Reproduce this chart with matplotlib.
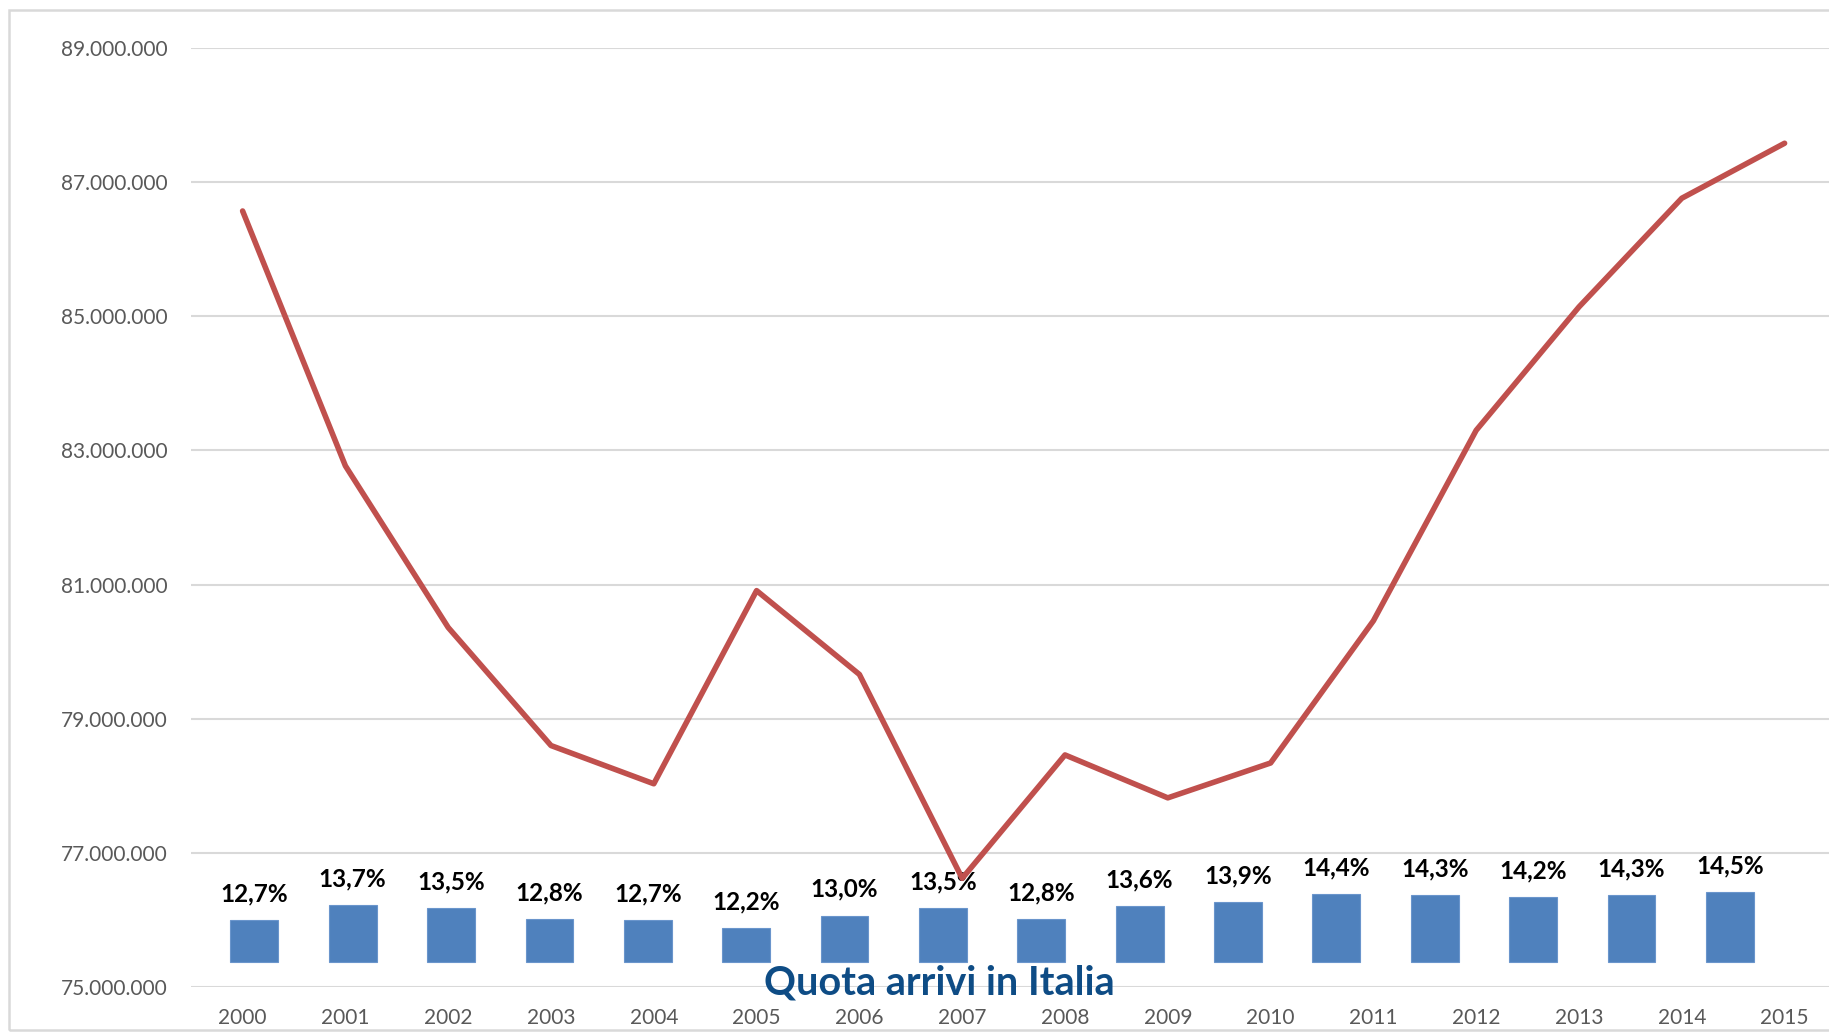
import matplotlib
matplotlib.use("Agg")
import matplotlib.pyplot as plt
from matplotlib.patches import Rectangle
from matplotlib.ticker import FuncFormatter, FixedLocator

years = ["2000", "2001", "2002", "2003", "2004", "2005", "2006", "2007",
         "2008", "2009", "2010", "2011", "2012", "2013", "2014", "2015"]
arrivals = [86.57e6, 82.77e6, 80.36e6, 78.60e6, 78.03e6, 80.91e6, 79.66e6, 76.62e6,
            78.46e6, 77.82e6, 78.34e6, 80.46e6, 83.30e6, 85.14e6, 86.76e6, 87.58e6]
share_pct = [12.7, 13.7, 13.5, 12.8, 12.7, 12.2, 13.0, 13.5,
             12.8, 13.6, 13.9, 14.4, 14.3, 14.2, 14.3, 14.5]
share_labels = ["12,7%", "13,7%", "13,5%", "12,8%", "12,7%", "12,2%", "13,0%", "13,5%",
                "12,8%", "13,6%", "13,9%", "14,4%", "14,3%", "14,2%", "14,3%", "14,5%"]
yticks = [75e6, 77e6, 79e6, 81e6, 83e6, 85e6, 87e6, 89e6]
title_text = "Quota arrivi in Italia"

W, H = 1829, 1034
fig = plt.figure(figsize=(W / 100, H / 100), dpi=100)
fig.patch.set_facecolor("white")

left_px, right_px, top_px, bottom_px = 191.2, 1829, 48, 987
pos = [left_px / W, 1 - bottom_px / H, (right_px - left_px) / W, (bottom_px - top_px) / H]

FONT = "Lato"
GRID = "#D9D9D9"
TXT = "#595959"

# base axis: gridlines + tick labels
ax = fig.add_axes(pos)
ax.set_zorder(0)
ax.set_xlim(-0.5, -0.5 + (right_px - left_px) / 102.8)
ax.set_ylim(75e6, 89e6)
ax.yaxis.set_major_locator(FixedLocator(yticks))
ax.yaxis.set_major_formatter(FuncFormatter(lambda v, p: f"{int(round(v)):,}".replace(",", ".")))
ax.set_xticks(range(len(years)))
ax.set_xticklabels(years)
for v in yticks:
    ax.axhline(v, color=GRID, linewidth=1.5, zorder=0)
for s in ax.spines.values():
    s.set_visible(False)
ax.tick_params(axis="both", length=0, labelsize=15, labelcolor=TXT)
ax.tick_params(axis="y", pad=17)
ax.tick_params(axis="x", pad=15)
for lab in ax.get_xticklabels() + ax.get_yticklabels():
    lab.set_family(FONT)

# bars axis (secondary)
axb = fig.add_axes(pos)
axb.set_zorder(1)
axb.patch.set_visible(False)
n_bars = len(share_pct)
axb.bar(range(n_bars), [v - 10.0 for v in share_pct], bottom=10.0,
        width=0.486, color="#4F81BD", edgecolor="#6A95CC", linewidth=0.8, zorder=2)
for i in range(n_bars):
    axb.annotate(share_labels[i], (i, share_pct[i]), xytext=(0, 10.5), textcoords="offset points",
                 ha="center", va="bottom", fontsize=17.5, fontweight="bold",
                 family=FONT, color="black")
x0 = -(254.3 - left_px) / 98.37
axb.set_xlim(x0, x0 + (right_px - left_px) / 98.37)
axb.set_ylim(10 - (bottom_px - 961.7) / 15.4, 10 + (961.7 - top_px) / 15.4)
axb.axis("off")

# line overlay
axl = fig.add_axes(pos, sharex=ax, sharey=ax)
axl.set_zorder(2)
axl.patch.set_visible(False)
axl.axis("off")
axl.plot(range(len(years)), arrivals, color="#C0504D", linewidth=4.0,
         solid_capstyle="round", zorder=3)

fig.text(939 / W, 1 - 983 / H, title_text, ha="center", va="center",
         fontsize=28.5, fontweight="bold", family=FONT, color="#0E4C85", zorder=5)

fig.patches.append(Rectangle((9 / W, 1 - 1030 / H), (W + 20) / W, 1020 / H,
                             transform=fig.transFigure, fill=False,
                             edgecolor=GRID, linewidth=1.8))

fig.savefig("out.png", dpi=100)
